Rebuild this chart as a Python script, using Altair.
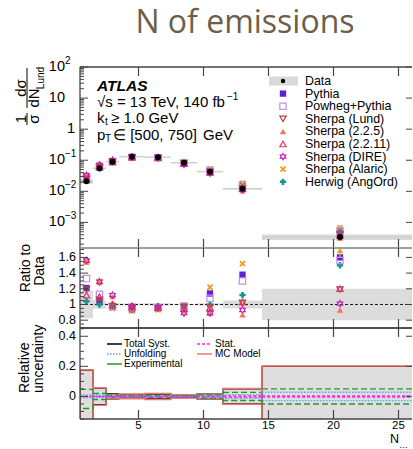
import altair as alt
import pandas as pd

# ---------------------------------------------------------------------------
# Binning in N_Lund
# ---------------------------------------------------------------------------
bin_lo = [0.5, 1.5, 2.5, 3.5, 5.5, 7.5, 9.5, 11.5, 14.5]
bin_hi = [1.5, 2.5, 3.5, 5.5, 7.5, 9.5, 11.5, 14.5, 26.5]
bin_mid = [1.0, 2.0, 3.0, 4.5, 6.5, 8.5, 10.5, 13.0, 20.5]

# Unfolded data, 1/sigma dsigma/dN_Lund
data_val = [0.021, 0.055, 0.090, 0.130, 0.125, 0.083, 0.043, 0.012, 0.00034]

# Relative uncertainty components
unc_total = [0.175, 0.055, 0.016, 0.012, 0.016, 0.008, 0.015, 0.050, 0.200]
unc_mcmodel = [0.178, 0.058, 0.012, 0.016, 0.020, 0.010, 0.012, 0.052, 0.202]
unc_exp_up = [0.047, 0.020, 0.008, 0.005, 0.006, 0.005, 0.010, 0.027, 0.050]
unc_exp_dn = [-0.080, -0.020, -0.008, -0.005, -0.006, -0.005, -0.010, -0.027, -0.050]
unc_unfold = [0.010, 0.008, 0.004, 0.003, 0.003, 0.003, 0.005, 0.012, 0.028]
unc_stat = [0.002, 0.001, 0.001, 0.001, 0.001, 0.001, 0.002, 0.004, 0.004]

# MC predictions, as ratio to data
model_names = ["Pythia", "Powheg+Pythia", "Sherpa (Lund)", "Sherpa (2.2.5)",
               "Sherpa (2.2.11)", "Sherpa (DIRE)", "Sherpa (Alaric)", "Herwig (AngOrd)"]
ratio_pythia = [1.21, 1.05, 0.97, 0.93, 0.95, 0.96, 1.14, 1.38, 1.60]
ratio_powheg = [1.33, 1.13, 0.97, 0.96, 0.96, 0.98, 1.08, 1.30, 1.56]
ratio_sherpa_lund = [1.19, 1.06, 0.98, 0.95, 0.95, 0.97, 0.96, 1.02, 1.19]
ratio_sherpa_225 = [1.54, 1.28, 1.10, 0.96, 0.95, 0.92, 0.89, 0.87, 0.93]
ratio_sherpa_2211 = [1.12, 1.10, 1.00, 0.97, 0.96, 0.95, 0.96, 1.03, 1.20]
ratio_sherpa_dire = [1.56, 1.29, 1.12, 0.98, 0.97, 0.89, 0.89, 0.93, 1.01]
ratio_sherpa_alaric = [1.55, 1.29, 0.95, 0.92, 0.93, 0.95, 1.22, 1.52, 2.00]
ratio_herwig = [1.04, 1.00, 1.00, 0.98, 0.98, 0.98, 1.00, 1.12, 1.50]
model_ratios = [ratio_pythia, ratio_powheg, ratio_sherpa_lund, ratio_sherpa_225,
                ratio_sherpa_2211, ratio_sherpa_dire, ratio_sherpa_alaric, ratio_herwig]

STAR6 = ("M0,-1L0.29,-0.5L0.87,-0.5L0.58,0L0.87,0.5L0.29,0.5L0,1L-0.29,0.5"
         "L-0.87,0.5L-0.58,0L-0.87,-0.5L-0.29,-0.5Z")
XMARK = ("M-1,-0.6L-0.6,-1L0,-0.4L0.6,-1L1,-0.6L0.4,0L1,0.6L0.6,1L0,0.4"
         "L-0.6,1L-1,0.6L-0.4,0Z")
model_colors = ["#5a22d4", "#c98cf6", "#b0443a", "#f7735f",
                "#de3563", "#c41fb0", "#f79a1c", "#139690"]
model_shapes = ["square", "square", "triangle-down", "triangle-up",
                "triangle-up", STAR6, XMARK, "cross"]
model_filled = [True, False, False, True, False, False, True, True]

# Axis tick labels
main_tick_vals = [100, 10, 1, 0.1, 0.01, 0.001]
main_tick_base = ["10", "10", "1", "10", "10", "10"]
main_tick_sup = ["2", "", "", "−1", "−2", "−3"]
ratio_tick_vals = [0.8, 1.0, 1.2, 1.4, 1.6]
ratio_tick_text = ["0.8", "1", "1.2", "1.4", "1.6"]
unc_tick_vals = [0.0, 0.2, 0.4]
unc_tick_text = ["0", "0.2", "0.4"]
x_tick_vals = [5, 10, 15, 20, 25]
x_tick_text = ["5", "10", "15", "20", "25"]

# ---------------------------------------------------------------------------
# Layout
# ---------------------------------------------------------------------------
FONT = "Liberation Sans"
W = 332
H1, H2, H3 = 181, 80, 91
X_DOM = [0.5, 0.5 + W / 13]
MAIN_DOM = [1.5e-4, 100]
RATIO_DOM = [0.70, 1.72]
UNC_DOM = [-0.15, 0.455]
AX = "#444444"

XS = alt.Scale(domain=X_DOM, nice=False, zero=False)
DUMMY = pd.DataFrame({"d": [0]})

# bare axes: labels and ticks are drawn as marks below
BARE = alt.Axis(labels=False, ticks=False, domain=False, grid=False, title=None)


def xq(field, axis=None):
    return alt.X(f"{field}:Q", scale=XS, axis=axis)


def text(t, x, y, size=14, align="left", baseline="middle", **kw):
    return alt.Chart(DUMMY).mark_text(
        text=t, font=kw.pop("font", FONT), fontSize=size, align=align,
        baseline=baseline, color=kw.pop("color", "black"), **kw
    ).encode(x=alt.value(x), y=alt.value(y))


def hline(x1, x2, y, color, width=1.3, dash=None):
    kw = dict(color=color, strokeWidth=width)
    if dash:
        kw["strokeDash"] = dash
    return alt.Chart(DUMMY).mark_rule(**kw).encode(
        x=alt.value(x1), x2=alt.value(x2), y=alt.value(y))


def frame(h, top_color=AX, bottom_color=AX):
    xt = pd.DataFrame({"x": x_tick_vals})
    return [
        alt.Chart(DUMMY).mark_rule(color=AX, strokeWidth=1.3).encode(
            x=alt.value(0), y=alt.value(0), y2=alt.value(h)),
        hline(0, W, 0, top_color),
        hline(0, W, h, bottom_color),
        alt.Chart(xt).mark_rule(color=AX, strokeWidth=1.2).encode(
            x=xq("x"), y=alt.value(0), y2=alt.value(9)),
        alt.Chart(xt).mark_rule(color=AX, strokeWidth=1.2).encode(
            x=xq("x"), y=alt.value(h - 9), y2=alt.value(h)),
    ]


def yticks(major, minor, yscale):
    out = []
    for vals, ln in ((major, 8), (minor, 4)):
        df = pd.DataFrame({"v": vals})
        out.append(alt.Chart(df).mark_rule(color=AX, strokeWidth=1).encode(
            y=alt.Y("v:Q", scale=yscale, axis=None),
            x=alt.value(0), x2=alt.value(ln)))
    df = pd.DataFrame({"v": major})
    out.append(alt.Chart(df).mark_rule(color=AX, strokeWidth=1).encode(
        y=alt.Y("v:Q", scale=yscale, axis=None),
        x=alt.value(W - 6), x2=alt.value(W)))
    return out


def ylabels(vals, labels, yscale, size=12.5, x=-4):
    df = pd.DataFrame({"v": vals, "lab": labels})
    return alt.Chart(df).mark_text(font=FONT, fontSize=size, align="right",
                                   baseline="middle", color="black").encode(
        y=alt.Y("v:Q", scale=yscale, axis=None), x=alt.value(x), text="lab:N")


# ---------------------------------------------------------------------------
# Tables
# ---------------------------------------------------------------------------
bins = pd.DataFrame({
    "lo": bin_lo, "hi": bin_hi, "mid": bin_mid, "val": data_val,
    "tot": unc_total, "mc": unc_mcmodel, "eup": unc_exp_up, "edn": unc_exp_dn,
    "unf": unc_unfold, "stat": unc_stat,
})
bins["band_lo"] = bins["val"] * (1 - bins["tot"])
bins["band_hi"] = bins["val"] * (1 + bins["tot"])
bins["r_lo"] = 1 - bins["tot"]
bins["r_hi"] = 1 + bins["tot"]
for c in ("tot", "mc", "unf", "stat"):
    bins[c + "_n"] = -bins[c]

rows = []
for name, rat, filled in zip(model_names, model_ratios, model_filled):
    for m, v, r in zip(bin_mid, data_val, rat):
        rows.append({"model": name, "mid": m, "ratio": r, "val": v * r,
                     "filled": filled})
mc = pd.DataFrame(rows)

COLOR = alt.Color("model:N", scale=alt.Scale(domain=model_names, range=model_colors),
                  legend=None)
SHAPE = alt.Shape("model:N", scale=alt.Scale(domain=model_names, range=model_shapes),
                  legend=None)

# ---------------------------------------------------------------------------
# Main panel
# ---------------------------------------------------------------------------
YM = alt.Scale(type="log", domain=MAIN_DOM, nice=False)
main_major = [1e-3, 1e-2, 1e-1, 1, 10, 100]
main_minor = [k * 10.0 ** e for e in range(-4, 2) for k in range(2, 10)
              if MAIN_DOM[0] < k * 10.0 ** e < MAIN_DOM[1]]

main_layers = [
    alt.Chart(bins).mark_rect(color="#d9d9d9", clip=True).encode(
        x=xq("lo", BARE), x2="hi",
        y=alt.Y("band_lo:Q", scale=YM, axis=BARE), y2="band_hi"),
    alt.Chart(bins).mark_rule(color="#cfcfcf", strokeWidth=1.5, clip=True).encode(
        x=xq("lo"), x2="hi", y=alt.Y("val:Q", scale=YM, axis=None)),
]
for filled in (True, False):
    main_layers.append(
        alt.Chart(mc).transform_filter(alt.datum.filled == filled).mark_point(
            filled=filled, size=40, strokeWidth=1.2, opacity=1).encode(
            x=xq("mid"), y=alt.Y("val:Q", scale=YM, axis=None),
            color=COLOR, shape=SHAPE))
main_layers.append(
    alt.Chart(bins).mark_point(filled=True, size=36, color="black", opacity=1,
                               shape="circle").encode(
        x=xq("mid"), y=alt.Y("val:Q", scale=YM, axis=None)))
main_layers += frame(H1, bottom_color="#999999")
main_layers += yticks(main_major, main_minor, YM)

# y tick labels: powers of ten with superscript exponents
mt = pd.DataFrame({"v": main_tick_vals, "base": main_tick_base, "sup": main_tick_sup})
mt_ten = mt[mt["base"] == "10"]
mt_one = mt[mt["base"] == "1"]
mt_sup = mt[mt["sup"] != ""]
main_layers += [
    alt.Chart(mt_ten).mark_text(font=FONT, fontSize=14.5, align="right",
                                baseline="middle", color="black").encode(
        y=alt.Y("v:Q", scale=YM, axis=None), x=alt.value(-15), text="base:N"),
    alt.Chart(mt_one).mark_text(font=FONT, fontSize=14.5, align="right",
                                baseline="middle", color="black").encode(
        y=alt.Y("v:Q", scale=YM, axis=None), x=alt.value(-5), text="base:N"),
    alt.Chart(mt_sup).mark_text(font=FONT, fontSize=10, align="left",
                                baseline="middle", dy=-6, color="black").encode(
        y=alt.Y("v:Q", scale=YM, axis=None), x=alt.value(-15), text="sup:N"),
]

# title
main_layers.append(text("N of emissions", 165, -34, size=32, align="center",
                        baseline="alphabetic", font="Open Sans", color="#6b5f4a"))
# y title as a fraction
main_layers += [
    text("1", -59, 52, size=15, angle=270, align="center"),
    text("σ", -46, 52, size=15, angle=270, align="center"),
    text("dσ", -59, 21, size=15, angle=270, align="center"),
    text("dN", -46, 31, size=15, angle=270, align="center"),
    text("Lund", -39, 11, size=10, angle=270, align="center"),
    alt.Chart(DUMMY).mark_rule(color="black", strokeWidth=1).encode(
        x=alt.value(-53), y=alt.value(46), y2=alt.value(58)),
    alt.Chart(DUMMY).mark_rule(color="black", strokeWidth=1).encode(
        x=alt.value(-53), y=alt.value(1), y2=alt.value(41)),
]
# ATLAS block
main_layers += [
    text("ATLAS", 17, 19, size=15.5, fontWeight="bold", fontStyle="italic"),
    text("√s = 13 TeV, 140 fb", 17, 35, size=15),
    text("−1", 147, 30, size=10),
    text("k", 17, 51, size=15),
    text("t", 25, 55, size=10),
    text("≥ 1.0 GeV", 31, 51, size=15),
    text("p", 17, 68, size=15),
    text("T", 25, 72, size=10),
    text("∈ [500, 750]", 33, 68, size=15),
    text("GeV", 123, 68, size=15),
]
# legend
LX_SYM, LX_TXT, LY0, LDY, LFS = 203, 225, 14, 12.6, 12.4
main_layers.append(
    alt.Chart(DUMMY).mark_rect(color="#d9d9d9").encode(
        x=alt.value(189), x2=alt.value(218), y=alt.value(LY0 - 4.5),
        y2=alt.value(LY0 + 4.5)))
main_layers.append(
    alt.Chart(DUMMY).mark_point(filled=True, size=20, color="black", opacity=1,
                                shape="circle").encode(
        x=alt.value(LX_SYM), y=alt.value(LY0)))
main_layers.append(text("Data", LX_TXT, LY0, size=LFS))
for i, (name, col, shp, filled) in enumerate(
        zip(model_names, model_colors, model_shapes, model_filled), start=1):
    ly = LY0 + i * LDY
    main_layers.append(
        alt.Chart(DUMMY).mark_point(filled=filled, size=40, strokeWidth=1.2,
                                    opacity=1, color=col, shape=shp).encode(
            x=alt.value(LX_SYM), y=alt.value(ly)))
    main_layers.append(text(name, LX_TXT, ly, size=LFS))

main = alt.layer(*main_layers).properties(width=W, height=H1)

# ---------------------------------------------------------------------------
# Ratio panel
# ---------------------------------------------------------------------------
YR = alt.Scale(domain=RATIO_DOM, nice=False, zero=False)
ratio_minor = [round(0.70 + 0.05 * i, 2) for i in range(21)]
ratio_minor = [v for v in ratio_minor if v not in ratio_tick_vals and v < RATIO_DOM[1]]

in_range = mc[mc["ratio"] <= RATIO_DOM[1]]
off_range = mc[mc["ratio"] > RATIO_DOM[1]].copy()
off_range["tip"] = RATIO_DOM[1] - 0.03
off_range["tail"] = RATIO_DOM[1] - 0.12

ratio_layers = [
    alt.Chart(bins).mark_rect(color="#dcdcdc", clip=True).encode(
        x=xq("lo", BARE), x2="hi",
        y=alt.Y("r_lo:Q", scale=YR, axis=BARE), y2="r_hi"),
    alt.Chart(DUMMY).mark_rule(color="black", strokeWidth=0.9, strokeDash=[3, 2]).encode(
        x=alt.value(0), x2=alt.value(W), y=alt.datum(1.0, scale=YR)),
]
for filled in (True, False):
    ratio_layers.append(
        alt.Chart(in_range).transform_filter(alt.datum.filled == filled).mark_point(
            filled=filled, size=40, strokeWidth=1.2, opacity=1).encode(
            x=xq("mid"), y=alt.Y("ratio:Q", scale=YR, axis=None),
            color=COLOR, shape=SHAPE))
ratio_layers += [
    alt.Chart(off_range).mark_rule(strokeWidth=1.3).encode(
        x=xq("mid"), y=alt.Y("tail:Q", scale=YR, axis=None), y2="tip", color=COLOR),
    alt.Chart(off_range).mark_point(filled=True, shape="triangle-up", size=40,
                                    opacity=1).encode(
        x=xq("mid"), y=alt.Y("tip:Q", scale=YR, axis=None), color=COLOR),
]
ratio_layers += frame(H2, top_color="#999999")
ratio_layers += yticks(ratio_tick_vals, ratio_minor, YR)
ratio_layers.append(ylabels(ratio_tick_vals, ratio_tick_text, YR))
ratio_layers += [
    text("Ratio to", -54, 20, angle=270, align="center"),
    text("Data", -40, 23, angle=270, align="center"),
]
ratio = alt.layer(*ratio_layers).properties(width=W, height=H2)

# ---------------------------------------------------------------------------
# Relative uncertainty panel
# ---------------------------------------------------------------------------
YU = alt.Scale(domain=UNC_DOM, nice=False, zero=False)
unc_minor = [round(-0.15 + 0.05 * i, 2) for i in range(13)]
unc_minor = [v for v in unc_minor if v not in unc_tick_vals and v < UNC_DOM[1]]

C_TOT, C_MC, C_EXP, C_UNF, C_STAT = "black", "#f2766b", "#1f9a2f", "#5fa5d9", "#ff22ff"


def box(lo, hi, color, width=1.4, dash=None, fill=None, axis=None):
    kw = dict(stroke=color, strokeWidth=width, clip=True)
    if fill:
        kw.update(fill=fill, fillOpacity=1)
    else:
        kw.update(fill="white", fillOpacity=0)
    if dash:
        kw["strokeDash"] = dash
    return alt.Chart(bins).mark_rect(**kw).encode(
        x=xq("lo", axis), x2="hi", y=alt.Y(f"{lo}:Q", scale=YU, axis=axis), y2=hi)


xt_df = pd.DataFrame({"x": x_tick_vals, "lab": x_tick_text})
unc_layers = [
    box("tot_n", "tot", C_TOT, fill="#dedede", axis=BARE),
    box("mc_n", "mc", C_MC, width=1.5),
    box("edn", "eup", C_EXP, width=1.4, dash=[6, 3]),
    box("unf_n", "unf", C_UNF, width=1.3, dash=[1.5, 1.5]),
    box("stat_n", "stat", C_STAT, width=1.2, dash=[3, 2]),
]
unc_layers += frame(H3)
unc_layers += yticks(unc_tick_vals, unc_minor, YU)
unc_layers.append(ylabels(unc_tick_vals, unc_tick_text, YU))
unc_layers.append(
    alt.Chart(xt_df).mark_text(font=FONT, fontSize=11.5, align="center",
                               baseline="middle", color="black").encode(
        x=xq("x"), y=alt.value(H3 + 7), text="lab:N"))
unc_layers += [
    text("Relative", -55, 65, angle=270, align="left"),
    text("uncertainty", -41, 65, angle=270, align="left"),
    # legend
    hline(27, 42, 16, C_TOT, 1.5),
    text("Total Syst.", 44, 16, size=10),
    hline(27, 42, 26, C_UNF, 1.3, [1.5, 1.5]),
    text("Unfolding", 44, 26, size=10),
    hline(27, 42, 36, C_EXP, 1.5),
    text("Experimental", 44, 36, size=10),
    hline(117, 132, 16, C_STAT, 1.3, [3, 2]),
    text("Stat.", 135, 16, size=10),
    hline(117, 132, 26, C_MC, 1.5),
    text("MC Model", 135, 26, size=10),
    # x title
    text("N", 310, 111, size=12.5),
    text("Lund", 319, 117, size=9, limit=W - 319, ellipsis=""),
]
unc = alt.layer(*unc_layers).properties(width=W, height=H3)

chart = alt.vconcat(main, ratio, unc, spacing=0, bounds="flush").properties(
    padding={"left": 14, "top": 7, "right": 0, "bottom": 0},
    background="white",
).configure_view(stroke=None)

chart.save("out.html", embed_options={"renderer": "svg", "actions": False})
